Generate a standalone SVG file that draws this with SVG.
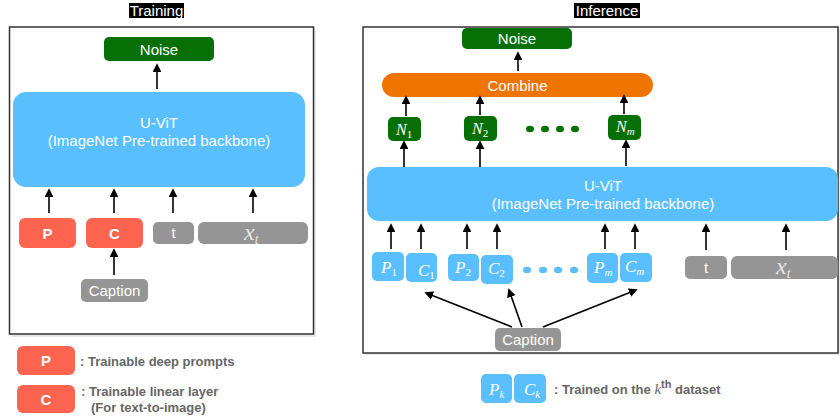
<svg xmlns="http://www.w3.org/2000/svg" width="840" height="419" viewBox="0 0 840 419">
  <style>
    text { font-family: "Liberation Sans", Arial, sans-serif; }
    .lbl { fill: #fff; font-size: 15px; text-anchor: middle; }
    .bold { font-weight: bold; }
    .math { font-family: "Liberation Serif", "Times New Roman", serif; font-style: italic; fill: #fff; }
    .xt { fill: #e6e6e6; }
    .sub { font-family: "Liberation Serif", "Times New Roman", serif; font-style: normal; }
    .legend { fill: #666; font-size: 13px; font-weight: bold; }
    .frame { fill: #fff; stroke: #333; stroke-width: 1.5; }
    .shadow { fill: #e8e8e8; }
    .green { fill: #066f06; }
    .blue { fill: #59bfff; }
    .red { fill: #ff6450; }
    .gray { fill: #959595; }
    .orange { fill: #f07400; }
    .arrow { stroke: #000; stroke-width: 1.6; fill: none; marker-end: url(#head); }
    .title-bg { fill: #000; }
    .title { fill: #fff; font-size: 15px; text-anchor: middle; }
  </style>
  <defs>
    <marker id="head" viewBox="0 0 10 10" refX="8" refY="5" markerWidth="5.5" markerHeight="5.5" orient="auto" markerUnits="strokeWidth">
      <path d="M0,0 L10,5 L0,10 z" fill="#000"/>
    </marker>
  </defs>

  <rect width="840" height="419" fill="#fff"/>

  <!-- Training panel -->
  <g id="training-panel">
    <rect class="shadow" x="11" y="29" width="305" height="308"/>
    <rect class="frame" x="9.5" y="27" width="304" height="307"/>
    <rect class="title-bg" x="129" y="3" width="55" height="15"/>
    <text class="title" x="156.5" y="15.5">Training</text>
  </g>

  <g id="train-noise">
    <rect class="green" x="104" y="37" width="110" height="24" rx="5"/>
    <text class="lbl" x="159" y="54.5">Noise</text>
  </g>
  <g id="train-uvit">
    <rect class="blue" x="13" y="92" width="292" height="95" rx="13"/>
    <text class="lbl" x="159" y="128">U-ViT</text>
    <text class="lbl" x="159" y="146">(ImageNet Pre-trained backbone)</text>
  </g>
  <g id="train-p">
    <rect class="red" x="19" y="218" width="57" height="30" rx="6"/>
    <text class="lbl bold" x="47.5" y="238.5">P</text>
  </g>
  <g id="train-c">
    <rect class="red" x="86" y="218" width="57" height="30" rx="6"/>
    <text class="lbl bold" x="114.5" y="238.5">C</text>
  </g>
  <g id="train-t">
    <rect class="gray" x="153" y="222" width="41" height="22" rx="5"/>
    <text class="lbl" x="173.5" y="238">t</text>
  </g>
  <g id="train-xt">
    <rect class="gray" x="198" y="222" width="110" height="22" rx="6"/>
    <text class="math xt" x="244" y="240" font-size="24">x<tspan font-size="14" dy="4">t</tspan></text>
  </g>
  <g id="train-caption">
    <rect class="gray" x="81" y="279" width="67" height="23" rx="5"/>
    <text class="lbl" x="114.5" y="296">Caption</text>
  </g>

  <!-- Training legend -->
  <g id="legend-p">
    <rect class="red" x="17" y="346" width="58" height="29" rx="6"/>
    <text class="lbl bold" x="46" y="366">P</text>
    <text class="legend" x="80" y="366">: Trainable deep prompts</text>
  </g>
  <g id="legend-c">
    <rect class="red" x="17" y="385" width="58" height="28" rx="6"/>
    <text class="lbl bold" x="46" y="405">C</text>
    <text class="legend" x="81" y="396">: Trainable linear layer</text>
    <text class="legend" x="91" y="412">(For text-to-image)</text>
  </g>

  <!-- Inference panel -->
  <g id="inference-panel">
    <rect class="shadow" x="365" y="29" width="478" height="326"/>
    <rect class="frame" x="363" y="27" width="475" height="326"/>
    <rect class="title-bg" x="574" y="3" width="66" height="15"/>
    <text class="title" x="607" y="15.5">Inference</text>
  </g>

  <g id="inf-noise">
    <rect class="green" x="462" y="28" width="110" height="21" rx="5"/>
    <text class="lbl" x="517" y="44">Noise</text>
  </g>
  <g id="inf-combine">
    <rect class="orange" x="382" y="73" width="271" height="24" rx="12"/>
    <text class="lbl" x="517.5" y="90.5">Combine</text>
  </g>
  <g id="inf-n1">
    <rect class="green" x="388" y="117" width="33" height="24" rx="5"/>
    <text class="math" x="396" y="135" font-size="16">N<tspan class="sub" font-size="11" dy="3">1</tspan></text>
  </g>
  <g id="inf-n2">
    <rect class="green" x="464" y="116" width="33" height="25" rx="5"/>
    <text class="math" x="472" y="134" font-size="16">N<tspan class="sub" font-size="11" dy="3">2</tspan></text>
  </g>
  <g id="inf-ndots" class="green">
    <ellipse cx="530" cy="129" rx="4" ry="3.3"/>
    <ellipse cx="545" cy="129" rx="4" ry="3.3"/>
    <ellipse cx="560" cy="129" rx="4" ry="3.3"/>
    <ellipse cx="575" cy="129" rx="4" ry="3.3"/>
  </g>
  <g id="inf-nm">
    <rect class="green" x="608" y="115" width="33" height="25" rx="5"/>
    <text class="math" x="616" y="132" font-size="16">N<tspan font-size="11" dy="3">m</tspan></text>
  </g>
  <g id="inf-uvit">
    <rect class="blue" x="367" y="167" width="471" height="54" rx="12"/>
    <text class="lbl" x="603" y="191">U-ViT</text>
    <text class="lbl" x="603" y="209">(ImageNet Pre-trained backbone)</text>
  </g>

  <g id="inf-p1">
    <rect class="blue" x="372" y="252" width="32" height="29" rx="5"/>
    <text class="math" x="381" y="273" font-size="17">P<tspan class="sub" font-size="11" dy="3">1</tspan></text>
  </g>
  <g id="inf-c1">
    <rect class="blue" x="406" y="253" width="31" height="29" rx="5"/>
    <text class="math" x="418" y="276" font-size="17">C<tspan class="sub" font-size="11" dy="3">1</tspan></text>
  </g>
  <g id="inf-p2">
    <rect class="blue" x="448" y="254" width="31" height="27" rx="5"/>
    <text class="math" x="455" y="273" font-size="17">P<tspan class="sub" font-size="11" dy="3">2</tspan></text>
  </g>
  <g id="inf-c2">
    <rect class="blue" x="481" y="255" width="32" height="29" rx="5"/>
    <text class="math" x="488" y="274" font-size="17">C<tspan class="sub" font-size="11" dy="3">2</tspan></text>
  </g>
  <g id="inf-pdots" class="blue">
    <ellipse cx="527" cy="270" rx="4" ry="3.3"/>
    <ellipse cx="543" cy="270" rx="4" ry="3.3"/>
    <ellipse cx="558" cy="270" rx="4" ry="3.3"/>
    <ellipse cx="574" cy="270" rx="4" ry="3.3"/>
  </g>
  <g id="inf-pm">
    <rect class="blue" x="587" y="253" width="31" height="30" rx="5"/>
    <text class="math" x="594" y="273" font-size="17">P<tspan font-size="11" dy="3">m</tspan></text>
  </g>
  <g id="inf-cm">
    <rect class="blue" x="620" y="253" width="32" height="29" rx="5"/>
    <text class="math" x="625" y="272" font-size="17">C<tspan font-size="11" dy="3">m</tspan></text>
  </g>
  <g id="inf-t">
    <rect class="gray" x="685" y="256" width="42" height="23" rx="5"/>
    <text class="lbl" x="706" y="273">t</text>
  </g>
  <g id="inf-xt">
    <rect class="gray" x="731" y="256" width="107" height="23" rx="6"/>
    <text class="math xt" x="776" y="274" font-size="24">x<tspan font-size="14" dy="4">t</tspan></text>
  </g>
  <g id="inf-caption">
    <rect class="gray" x="495" y="328" width="66" height="23" rx="5"/>
    <text class="lbl" x="528" y="345">Caption</text>
  </g>

  <!-- Inference legend -->
  <g id="legend-pk-ck">
    <rect class="blue" x="481" y="374" width="31" height="29" rx="5"/>
    <text class="math" x="489" y="395" font-size="17">P<tspan font-size="11" dy="3">k</tspan></text>
    <rect class="blue" x="514" y="374" width="32" height="29" rx="5"/>
    <text class="math" x="524" y="395" font-size="17">C<tspan font-size="11" dy="3">k</tspan></text>
    <text class="legend" x="554" y="394">: Trained on the <tspan font-family="Liberation Serif, serif" font-style="italic" font-weight="normal" font-size="15">k</tspan><tspan font-size="11" dy="-6">th</tspan><tspan dy="6"> dataset</tspan></text>
  </g>

  <!-- Connectors -->
  <g id="connectors">
    <!-- training -->
    <line class="arrow" x1="157" y1="89" x2="157" y2="65"/>
    <line class="arrow" x1="49" y1="213" x2="49" y2="190"/>
    <line class="arrow" x1="114" y1="213" x2="114" y2="190"/>
    <line class="arrow" x1="173" y1="213" x2="173" y2="190"/>
    <line class="arrow" x1="253" y1="213" x2="253" y2="190"/>
    <line class="arrow" x1="114" y1="275" x2="114" y2="250"/>
    <!-- inference -->
    <line class="arrow" x1="518" y1="71" x2="518" y2="53"/>
    <line class="arrow" x1="406" y1="116" x2="406" y2="97"/>
    <line class="arrow" x1="480" y1="115" x2="480" y2="97"/>
    <line class="arrow" x1="624" y1="114" x2="624" y2="96"/>
    <line class="arrow" x1="404" y1="167" x2="404" y2="142"/>
    <line class="arrow" x1="480" y1="167" x2="480" y2="142"/>
    <line class="arrow" x1="626" y1="166" x2="626" y2="141"/>
    <line class="arrow" x1="391" y1="249" x2="391" y2="225"/>
    <line class="arrow" x1="421" y1="249" x2="421" y2="225"/>
    <line class="arrow" x1="467" y1="249" x2="467" y2="225"/>
    <line class="arrow" x1="497" y1="249" x2="497" y2="225"/>
    <line class="arrow" x1="605" y1="249" x2="605" y2="225"/>
    <line class="arrow" x1="635" y1="249" x2="635" y2="225"/>
    <line class="arrow" x1="706" y1="250" x2="706" y2="225"/>
    <line class="arrow" x1="786" y1="250" x2="786" y2="225"/>
    <line class="arrow" x1="512" y1="327" x2="426" y2="293"/>
    <line class="arrow" x1="522" y1="327" x2="509" y2="290"/>
    <line class="arrow" x1="543" y1="327" x2="636" y2="290"/>
  </g>
</svg>
